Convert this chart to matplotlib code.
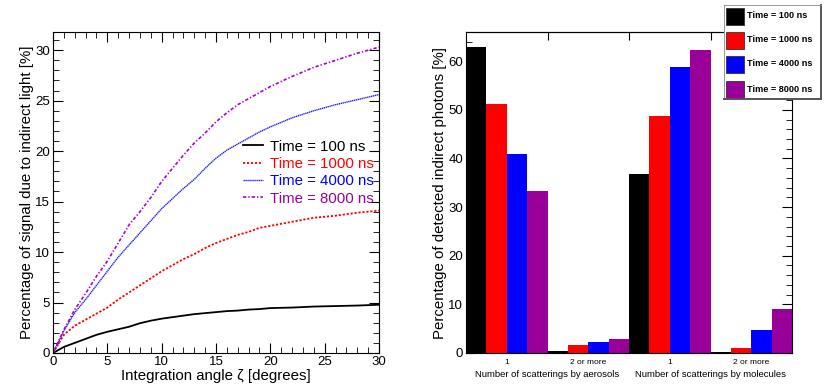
import matplotlib.pyplot as plt
import numpy as np
from matplotlib.patches import Rectangle
from matplotlib.ticker import MultipleLocator

plt.rcParams['font.family'] = ['Liberation Sans', 'DejaVu Sans']

# left panel: fraction of signal vs integration angle
angle = [0, 1, 2, 3, 4, 5, 6, 7, 8, 9, 10, 11, 12, 13, 14, 15, 16, 17, 18, 19, 20, 22, 24, 26, 28, 30]
sig_100 = [0, 0.6, 1.0, 1.4, 1.8, 2.1, 2.35, 2.6, 2.95, 3.2, 3.4, 3.55, 3.7, 3.85, 3.95, 4.05,
           4.15, 4.2, 4.3, 4.35, 4.45, 4.5, 4.6, 4.65, 4.7, 4.78]
sig_1000 = [0, 1.8, 2.7, 3.3, 3.9, 4.5, 5.3, 6.0, 6.7, 7.4, 8.1, 8.7, 9.3, 9.8, 10.4, 10.9,
            11.3, 11.7, 12.0, 12.4, 12.6, 13.0, 13.4, 13.6, 13.9, 14.1]
sig_4000 = [0, 2.2, 4.0, 5.3, 6.7, 8.1, 9.5, 10.7, 11.9, 13.1, 14.3, 15.3, 16.3, 17.2, 18.3, 19.3,
            20.1, 20.7, 21.3, 21.9, 22.4, 23.3, 24.0, 24.6, 25.1, 25.6]
sig_8000 = [0, 2.3, 4.3, 5.9, 7.6, 9.1, 10.9, 12.7, 14.0, 15.4, 17.0, 18.3, 19.6, 20.8, 21.8, 22.9,
            23.8, 24.6, 25.2, 25.8, 26.4, 27.4, 28.3, 29.0, 29.7, 30.3]

# right panel: scattering composition
times = ['Time = 100 ns', 'Time = 1000 ns', 'Time = 4000 ns', 'Time = 8000 ns']
bar_colors = ['black', '#ff0000', '#0000ff', '#990099']
group_ticks = ['1', '2 or more', '1', '2 or more']
bar_vals = [[62.9, 0.5, 36.9, 0.2],
            [51.3, 1.7, 48.8, 1.1],
            [40.9, 2.3, 58.8, 4.8],
            [33.4, 2.8, 62.4, 9.0]]

fig = plt.figure(figsize=(8.31, 3.9), dpi=100)

ax1 = fig.add_axes([0.0638, 0.0949, 0.3923, 0.823])
ax1.plot(angle, sig_100, color='black', lw=1.3, ls='-', label='Time = 100 ns')
ax1.plot(angle, sig_1000, color='#ff0000', lw=1.3, ls=(0, (1.2, 1.0)), label='Time = 1000 ns')
ax1.plot(angle, sig_4000, color='#2020ff', lw=1.0, ls=(0, (1.0, 0.4)), label='Time = 4000 ns')
ax1.plot(angle, sig_8000, color='#aa00cc', lw=1.2, ls=(0, (2, 1.2, 0.8, 1.2)), label='Time = 8000 ns')
ax1.set_xlim(0, 30)
ax1.set_ylim(0, 31.8)
ax1.xaxis.set_major_locator(MultipleLocator(5))
ax1.xaxis.set_minor_locator(MultipleLocator(1))
ax1.yaxis.set_major_locator(MultipleLocator(5))
ax1.yaxis.set_minor_locator(MultipleLocator(1))
ax1.tick_params(which='both', direction='in', top=True, right=True, labelsize=9.5, pad=2)
ax1.tick_params(which='major', length=7)
ax1.tick_params(which='minor', length=4)
ax1.set_xlabel('Integration angle ζ [degrees]', fontsize=10.8, labelpad=1)
ax1.set_ylabel('Percentage of signal due to indirect light [%]', fontsize=10.8, labelpad=1)
leg = ax1.legend(loc='center left', bbox_to_anchor=(0.583, 0.562), frameon=False, fontsize=10.8,
                 handlelength=1.3, handletextpad=0.47, labelspacing=0.22, borderpad=0,
                 borderaxespad=0)
for txt, c in zip(leg.get_texts(), ['black', '#ff0000', '#0000ff', '#990099']):
    txt.set_color(c)

ax2 = fig.add_axes([0.5608, 0.0949, 0.3923, 0.823])
for s in range(4):
    x = np.arange(4) + (s + 0.5) / 4
    ax2.bar(x, bar_vals[s], width=0.25, color=bar_colors[s], edgecolor='none', zorder=2)
ax2.set_xlim(0, 4)
ax2.set_ylim(0, 66)
ax2.yaxis.set_major_locator(MultipleLocator(10))
ax2.yaxis.set_minor_locator(MultipleLocator(2))
ax2.tick_params(axis='y', which='both', direction='in', right=True, labelsize=9.5, pad=2)
ax2.tick_params(axis='y', which='major', length=7)
ax2.tick_params(axis='y', which='minor', length=4)
ax2.set_xticks(np.arange(4) + 0.5)
ax2.set_xticklabels(group_ticks, fontsize=6)
ax2.tick_params(axis='x', which='both', length=0, pad=4)
sec = ax2.secondary_xaxis('top')
sec.set_xticks([1, 2, 3])
sec.tick_params(direction='in', length=6, labeltop=False)
ax2.text(1.0, -0.054, 'Number of scatterings by aerosols', transform=ax2.get_xaxis_transform(),
         ha='center', va='top', fontsize=6.8)
ax2.text(3.0, -0.054, 'Number of scatterings by molecules', transform=ax2.get_xaxis_transform(),
         ha='center', va='top', fontsize=6.8)
ax2.set_ylabel('Percentage of detected indirect photons [%]', fontsize=10.8, labelpad=1)

# legend box for the bar chart, laid out in pixel units
lax = fig.add_axes([724 / 831, 1 - 99 / 390, 97 / 831, 94 / 390], zorder=10)
lax.set_xlim(0, 97)
lax.set_ylim(94, 0)
lax.set_xticks([])
lax.set_yticks([])
for side in ['left', 'top']:
    lax.spines[side].set_linewidth(0.6)
    lax.spines[side].set_color('#888888')
for side in ['right', 'bottom']:
    lax.spines[side].set_linewidth(1.4)
    lax.spines[side].set_color('#555555')
rows = [11, 35, 59, 84]
for yc, c, lab in zip(rows, bar_colors, times):
    lax.add_patch(Rectangle((2, yc - 8.5), 18, 17, facecolor=c, edgecolor='#333333', lw=0.6))
    lax.text(23, yc, lab, fontsize=6.6, fontweight='bold', va='center', ha='left')

fig.savefig('out.png', dpi=100)
